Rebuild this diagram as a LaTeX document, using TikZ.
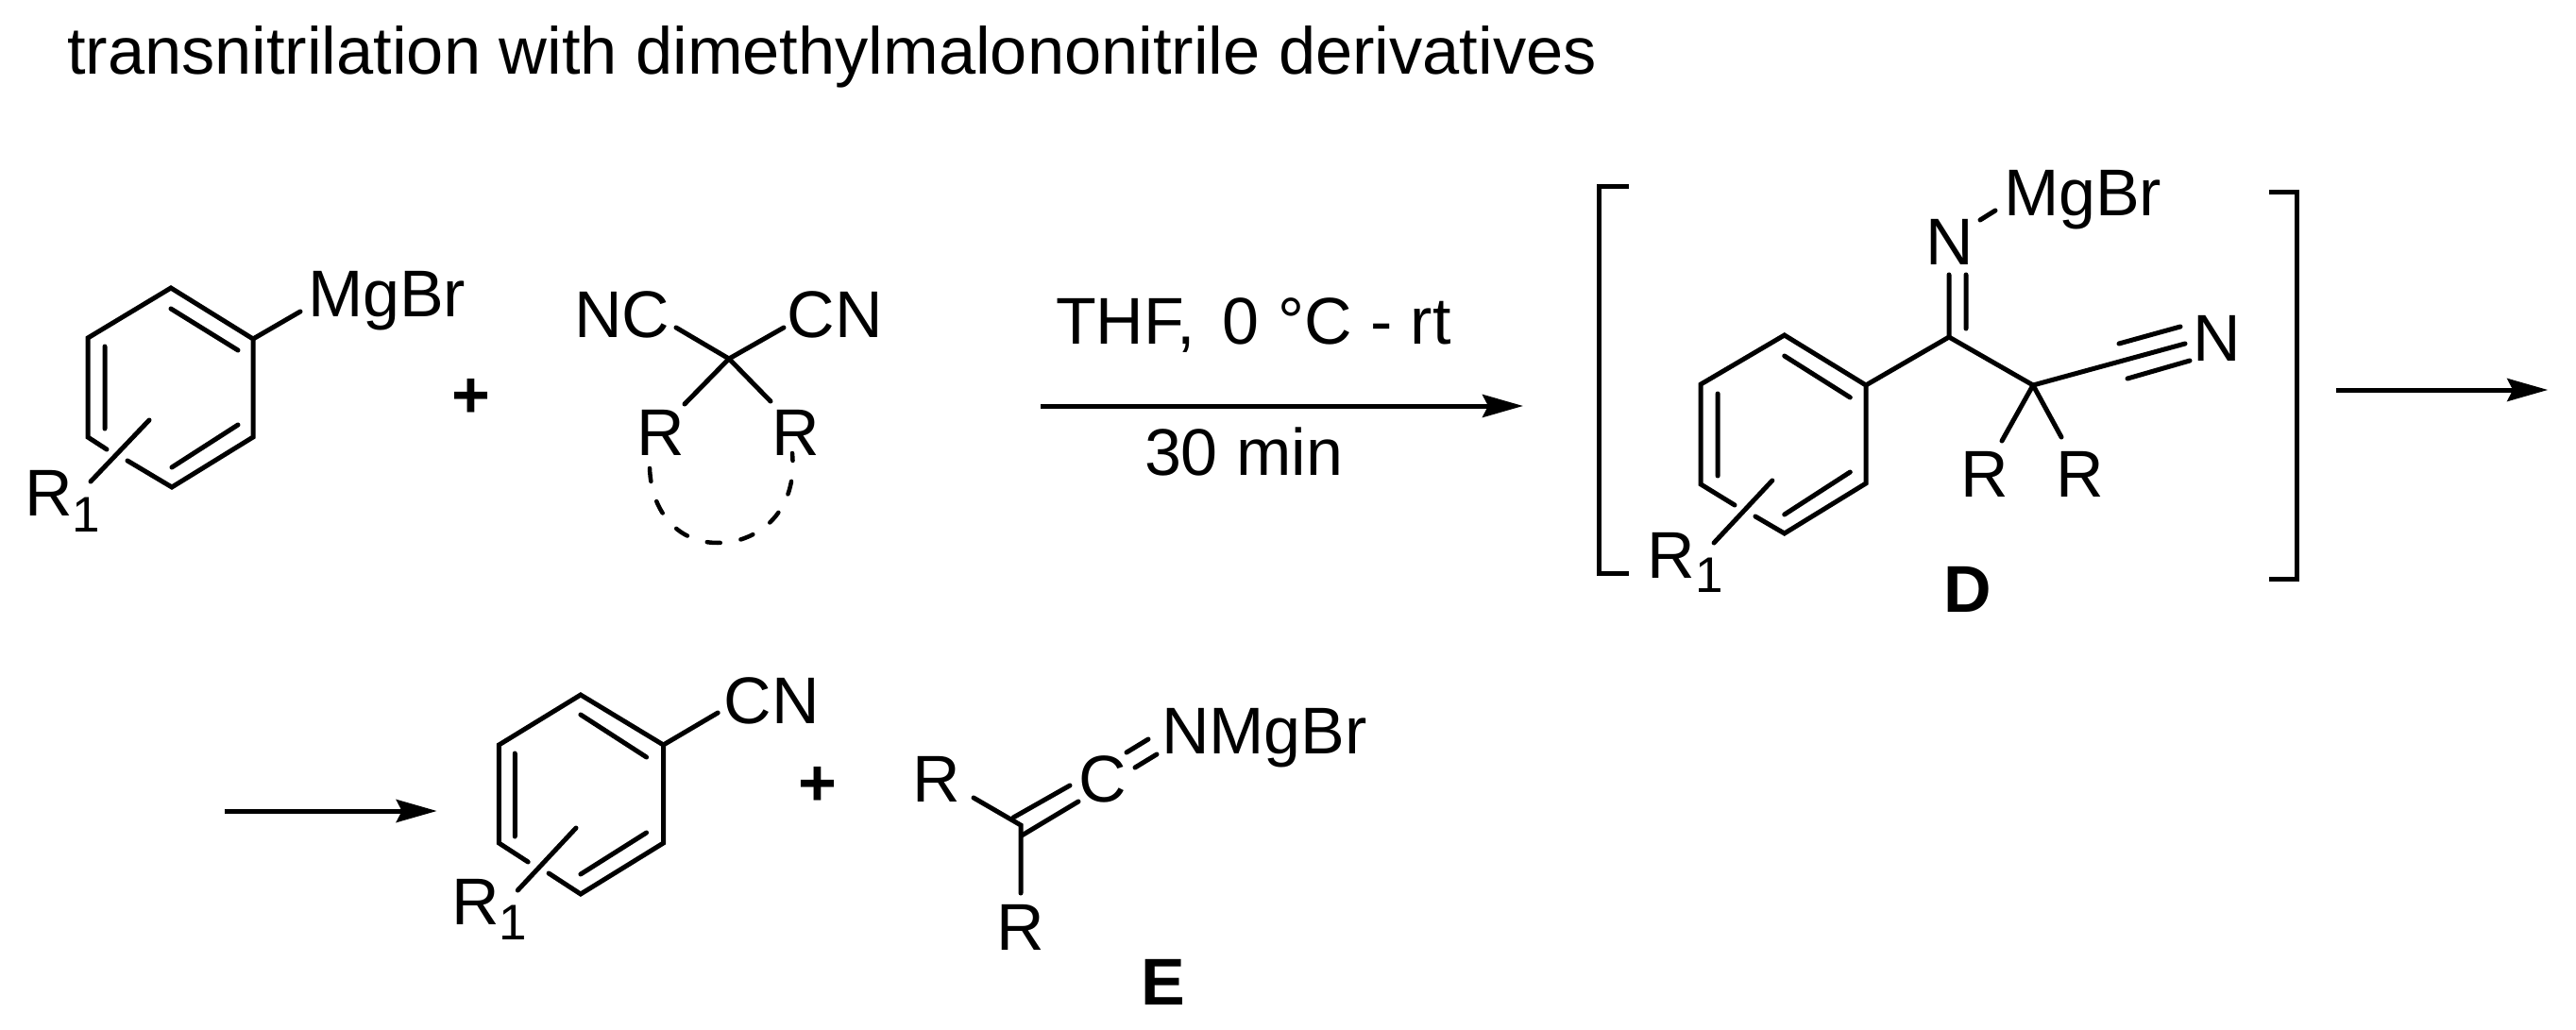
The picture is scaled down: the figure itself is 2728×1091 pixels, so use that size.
\documentclass[tikz,border=0pt]{standalone}
\usepackage{fontspec}
\setmainfont{Liberation Sans}
\usetikzlibrary{arrows.meta}
\tikzset{
  chem/.style={inner sep=0pt,outer sep=0pt,anchor=base west,font=\fontsize{70}{80}\selectfont},
  sub/.style={inner sep=0pt,outer sep=0pt,anchor=base west,font=\fontsize{53}{60}\selectfont},
  lab/.style={inner sep=0pt,outer sep=0pt,anchor=base west,font=\fontsize{70}{80}\selectfont\bfseries},
  plusm/.style={inner sep=0pt,outer sep=0pt,anchor=center,font=\fontsize{70}{80}\selectfont\bfseries},
  bond/.style={line width=5pt,line cap=round,line join=miter},
  brk/.style={line width=5pt,line join=miter},
  rxn/.style={line width=5pt,-{Stealth[length=43pt,width=24pt,inset=6pt]}},
}
\begin{document}
\begin{tikzpicture}[x=1pt,y=-1pt]
\useasboundingbox (0,0) rectangle (2728,1091);
\node[chem,font=\fontsize{70.4}{80}\selectfont] (title) at (71,79) {transnitrilation with dimethylmalononitrile derivatives};
% --- ring A
\coordinate (a1) at (181,305); \coordinate (a2) at (268,359); \coordinate (a3) at (268,463);
\coordinate (a4) at (182,516); \coordinate (a5) at (93,463); \coordinate (a6) at (93,358);
\coordinate (a5g) at (113,476); \coordinate (a4g) at (135,488);
\coordinate (ai1) at (181,327); \coordinate (ai2) at (252,371); \coordinate (ai3) at (111,367);
\coordinate (ai4) at (111,454); \coordinate (ai5) at (252,450); \coordinate (ai6) at (182,495);
\coordinate (aR1) at (158,445); \coordinate (aR2) at (96,510); \coordinate (aMg) at (318,330);
\draw[bond] (a5g) -- (a5) -- (a6) -- (a1) -- (a2) -- (a3) -- (a4) -- (a4g);
\draw[bond] (ai1) -- (ai2) (ai3) -- (ai4) (ai5) -- (ai6) (aR1) -- (aR2) (a2) -- (aMg);
\node[chem] (mgbr1) at (326,335) {MgBr};
\node[chem] (r1a) at (26,546) {R};
\node[sub] (r1as) at (76,563) {1};
\node[plusm] (plus1) at (499,422) {+};
% --- malononitrile
\coordinate (mc) at (772,380); \coordinate (mn1) at (716,347); \coordinate (mn2) at (830,347);
\coordinate (mr1) at (725,428); \coordinate (mr2) at (816,425);
\draw[bond] (mc) -- (mn1) (mc) -- (mn2) (mc) -- (mr1) (mc) -- (mr2);
\node[chem] (nc) at (608,357) {NC};
\node[chem] (cn) at (833.5,357) {CN};
\node[chem] (rl) at (674.5,482) {R};
\node[chem] (rr) at (817.5,482) {R};
\coordinate (d1) at (688,496); \coordinate (dm) at (760,575); \coordinate (d2) at (839,480);
\draw[line width=4.5pt,line cap=round,dash pattern=on 14pt off 22pt] (d1) .. controls (690,545) and (720,575) .. (dm) .. controls (805,575) and (845,540) .. (d2);
% --- arrow 1
\coordinate (ar1s) at (1102,430); \coordinate (ar1e) at (1613,430);
\draw[rxn] (ar1s) -- (ar1e);
\node[chem] (thf) at (1118,364) {THF,\hspace{29pt}0 °C - rt};
\node[chem] (min) at (1212,503) {30 min};
% --- intermediate D and second arrow
\coordinate (bl1) at (1724.7,198); \coordinate (bl2) at (1693.8,198); \coordinate (bl3) at (1693.8,607); \coordinate (bl4) at (1724.7,607);
\coordinate (br1) at (2402.9,204); \coordinate (br2) at (2432.7,204); \coordinate (br3) at (2432.7,613); \coordinate (br4) at (2402.9,613);
\draw[brk] (bl1) -- (bl2) -- (bl3) -- (bl4);
\draw[brk] (br1) -- (br2) -- (br3) -- (br4);
\coordinate (b1) at (1889.7,355); \coordinate (b2) at (1976,408); \coordinate (b3) at (1976,512);
\coordinate (b4) at (1889.7,565); \coordinate (b5) at (1801.2,513); \coordinate (b6) at (1801.2,407);
\coordinate (b5g) at (1837,535); \coordinate (b4g) at (1858.9,547);
\coordinate (bi1) at (1889.7,377); \coordinate (bi2) at (1959.3,421); \coordinate (bi3) at (1819.1,417);
\coordinate (bi4) at (1819.1,504); \coordinate (bi5) at (1959.3,500); \coordinate (bi6) at (1889.7,545);
\coordinate (bR1) at (1876.8,509); \coordinate (bR2) at (1815.1,575);
\draw[bond] (b5g) -- (b5) -- (b6) -- (b1) -- (b2) -- (b3) -- (b4) -- (b4g);
\draw[bond] (bi1) -- (bi2) (bi3) -- (bi4) (bi5) -- (bi6) (bR1) -- (bR2);
\coordinate (cc) at (2064,357); \coordinate (cq) at (2153,408);
\coordinate (cn1) at (2064,291); \coordinate (cn2a) at (2082,348); \coordinate (cn2b) at (2082,291);
\coordinate (nmg1) at (2097,233); \coordinate (nmg2) at (2113,223);
\coordinate (t1) at (2314,364); \coordinate (t2a) at (2244,364); \coordinate (t2b) at (2309,346);
\coordinate (t3a) at (2253,401); \coordinate (t3b) at (2319,382);
\coordinate (q1) at (2120,467); \coordinate (q2) at (2183,463);
\draw[bond] (b2) -- (cc) -- (cq) -- (t1);
\draw[bond] (cc) -- (cn1) (cn2a) -- (cn2b) (nmg1) -- (nmg2);
\draw[bond] (t2a) -- (t2b) (t3a) -- (t3b) (cq) -- (q1) (cq) -- (q2);
\node[chem] (n1) at (2039,281) {N};
\node[chem] (mgbr2) at (2122,229) {MgBr};
\node[chem] (n2) at (2322,382) {N};
\node[chem] (r1) at (2076.5,526) {R};
\node[chem] (r2) at (2177.5,526) {R};
\node[chem] (r1b) at (1744,612) {R};
\node[sub] (r1bs) at (1795,627) {1};
\node[lab] (D) at (2058,648) {D};
\coordinate (ar2s) at (2473.5,413); \coordinate (ar2e) at (2698.2,413);
\draw[rxn] (ar2s) -- (ar2e);
% --- bottom row
\coordinate (ar3s) at (237.8,859); \coordinate (ar3e) at (462.7,859);
\draw[rxn] (ar3s) -- (ar3e);
\coordinate (c1) at (614.9,736); \coordinate (c2) at (702.5,789); \coordinate (c3) at (702.5,893);
\coordinate (c4) at (614.9,947); \coordinate (c5) at (528.4,893); \coordinate (c6) at (528.4,789);
\coordinate (c5g) at (559.2,913); \coordinate (c4g) at (581.1,925);
\coordinate (ci1) at (614.9,757); \coordinate (ci2) at (684.6,802); \coordinate (ci3) at (545.3,798);
\coordinate (ci4) at (545.3,886); \coordinate (ci5) at (684.6,882); \coordinate (ci6) at (614.9,926);
\coordinate (cR1) at (610,877); \coordinate (cR2) at (548.3,943); \coordinate (cCN) at (760.2,755);
\draw[bond] (c5g) -- (c5) -- (c6) -- (c1) -- (c2) -- (c3) -- (c4) -- (c4g);
\draw[bond] (ci1) -- (ci2) (ci3) -- (ci4) (ci5) -- (ci6) (cR1) -- (cR2) (c2) -- (cCN);
\node[chem] (cn3) at (766.6,766) {CN};
\node[chem] (r1c) at (478,979) {R};
\node[sub] (r1cs) at (528.3,995) {1};
\node[plusm] (plus2) at (865.7,833) {+};
\coordinate (k0) at (1081,874); \coordinate (kR) at (1031,845); \coordinate (kRb) at (1081,946);
\coordinate (kd1a) at (1073,866); \coordinate (kd1b) at (1133,832);
\coordinate (kd2a) at (1082,885); \coordinate (kd2b) at (1142,849);
\coordinate (kn1a) at (1193,797); \coordinate (kn1b) at (1216,783);
\coordinate (kn2a) at (1202,813); \coordinate (kn2b) at (1225,799);
\draw[bond] (kR) -- (k0) -- (kRb);
\draw[bond] (kd1a) -- (kd1b) (kd2a) -- (kd2b) (kn1a) -- (kn1b) (kn2a) -- (kn2b);
\node[chem] (r3) at (966.5,849) {R};
\node[chem] (cket) at (1142.5,849) {C};
\node[chem] (nmg) at (1230,798) {NMgBr};
\node[chem] (r4) at (1055.5,1006) {R};
\node[lab] (E) at (1208,1064) {E};
\end{tikzpicture}
\end{document}
